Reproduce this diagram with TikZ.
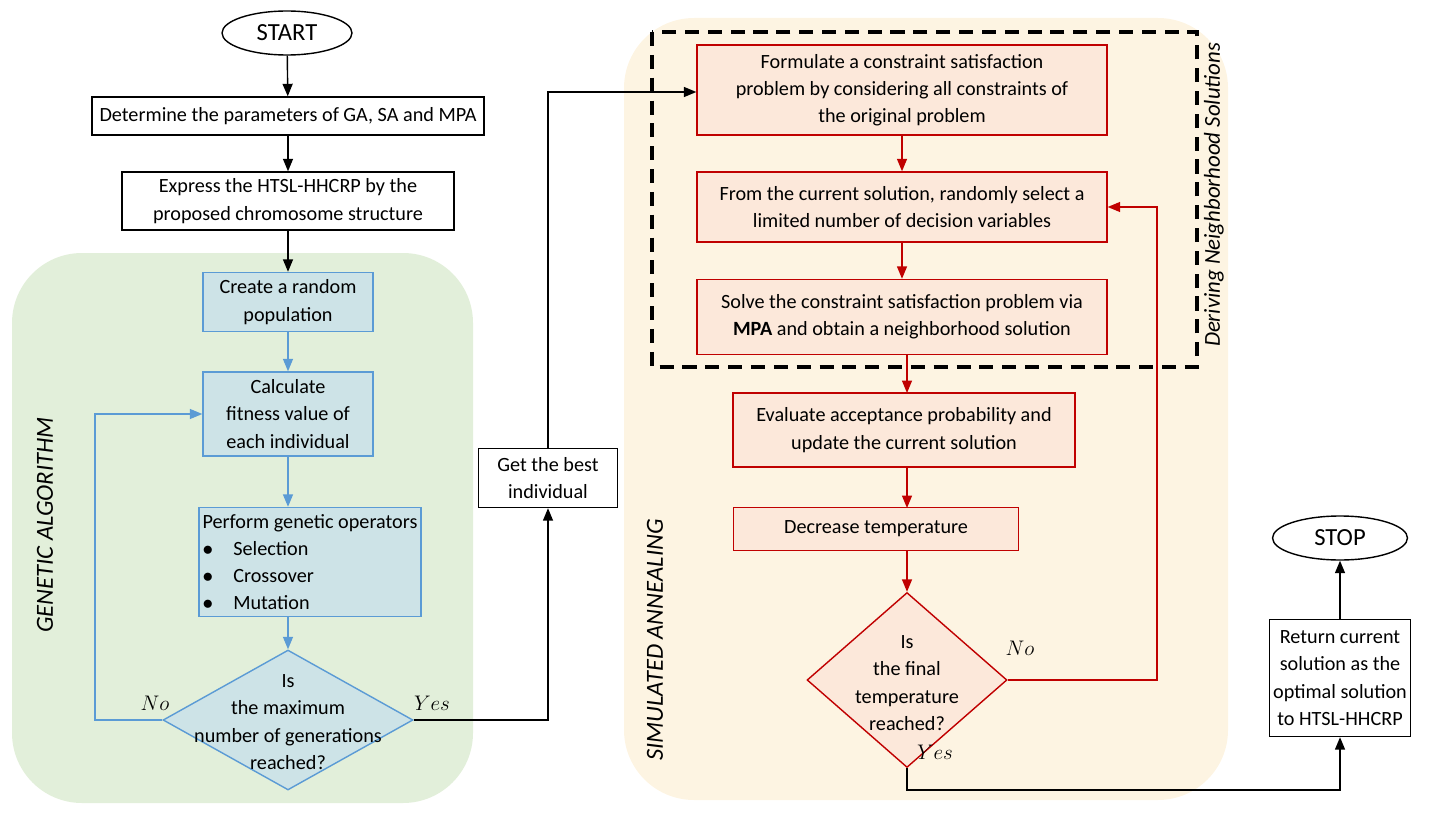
\documentclass[tikz,border=0pt]{standalone}
\usepackage{fontspec}
\setmainfont{Carlito}
\usetikzlibrary{positioning}
\usetikzlibrary{arrows.meta}
\usetikzlibrary{calc,shapes.geometric}
\definecolor{gaback}{RGB}{226,239,218}
\definecolor{saback}{RGB}{253,244,226}
\definecolor{gafill}{RGB}{205,227,231}
\definecolor{gaedge}{RGB}{91,155,213}
\definecolor{safill}{RGB}{252,232,218}
\definecolor{saedge}{RGB}{192,0,0}

\begin{document}
\begin{tikzpicture}[x=0.02cm,y=-0.02cm,every node/.style={font=\fontsize{11.5}{15.5}\selectfont,align=center}]
	
	\tikzstyle{plain}=[rectangle,draw=black,thick,fill=white,inner sep=2pt]
	\tikzstyle{term}=[ellipse,draw=black,thick,fill=white,minimum width=2.6cm,minimum height=0.88cm,font=\fontsize{14}{18}\selectfont]
	\tikzstyle{ga box}=[rectangle,draw=gaedge,thick,fill=gafill,inner sep=2pt]
	\tikzstyle{sa box}=[rectangle,draw=saedge,thick,fill=safill,inner sep=2pt]
	\tikzstyle{ga arrow}=[-{Triangle[length=2.5mm,width=2mm]},thick,draw=gaedge]
	\tikzstyle{sa arrow}=[-{Triangle[length=2.5mm,width=2mm]},thick,draw=saedge]
	\tikzstyle{bk arrow}=[-{Triangle[length=2.5mm,width=2mm]},thick,draw=black]
	
	\useasboundingbox (0,0) rectangle (1432,814);
	
	% Backgrounds:
	\fill[gaback,rounded corners=1.4cm] (12,253) rectangle (473,803);
	\fill[saback,rounded corners=1.4cm] (624,18) rectangle (1228,800);
	\draw[black,line width=2pt,dash pattern=on 8pt off 5pt] (652,32) rectangle (1197,367);
	\node[rotate=90,font=\itshape\fontsize{14}{18}\selectfont] at (45,525) {GENETIC ALGORITHM};
	\node[rotate=90,font=\itshape\fontsize{14}{18}\selectfont] at (655,640) {SIMULATED ANNEALING};
	\node[rotate=90,font=\itshape\fontsize{13}{18}\selectfont] at (1214,195) {Deriving Neighborhood Solutions};
	
	% Start:
	\node[term] (start) at (287,33) {START};
	\node[plain,minimum width=7.84cm,minimum height=0.76cm] (param) at (288,116) {Determine the parameters of GA, SA and MPA};
	\node[plain,minimum width=6.64cm,minimum height=1.16cm] (chrom) at (288,201) {Express the HTSL-HHCRP by the\\proposed chromosome structure};
	
	% Genetic algorithm:
	\node[ga box,minimum width=3.4cm,minimum height=1.18cm] (pop) at (288,302) {Create a random\\population};
	\node[ga box,minimum width=3.4cm,minimum height=1.68cm] (fit) at (288,414) {Calculate\\fitness value of\\each individual};
	\node[ga box,minimum width=4.3cm,minimum height=2.18cm,align=left] (oper) at (310,562) {Perform genetic operators\\$\bullet$\quad Selection\\$\bullet$\quad Crossover\\$\bullet$\quad Mutation};
	\node[diamond,draw=gaedge,thick,fill=gafill,minimum width=5cm,minimum height=2.8cm,inner sep=0pt] (gen) at (288,720) {};
	\node at (288,722) {Is\\the maximum\\number of generations\\reached?};
	\node[plain,minimum width=2.78cm,minimum height=1.18cm] (best) at (548,478) {Get the best\\individual};
	
	\draw[bk arrow] (start) -- (param);
	\draw[bk arrow] (param) -- (chrom);
	\draw[bk arrow] (chrom) -- (pop);
	\draw[ga arrow] (pop) -- (fit);
	\draw[ga arrow] (fit) -- (fit|-oper.north);
	\draw[ga arrow] (fit|-oper.south) -- (gen);
	\draw[ga arrow] (gen.west) -| (95,414) -- (fit.west);
	\node at (155,703) {$No$};
	\draw[bk arrow] (gen.east) -- (548,720) -- (best);
	\node at (432,703) {$Yes$};
	
	% Simulated annealing:
	\node[sa box,minimum width=8.2cm,minimum height=1.8cm] (form) at (902,90) {Formulate a constraint satisfaction\\problem by considering all constraints of\\the original problem};
	\node[sa box,minimum width=8.2cm,minimum height=1.4cm] (curr) at (902,207) {From the current solution, randomly select a\\limited number of decision variables};
	\node[sa box,minimum width=8.2cm,minimum height=1.5cm] (solve) at (902,317) {Solve the constraint satisfaction problem via\\\textbf{MPA} and obtain a neighborhood solution};
	\node[sa box,minimum width=6.84cm,minimum height=1.48cm] (eval) at (904,430) {Evaluate acceptance probability and\\update the current solution};
	\node[sa box,minimum width=5.7cm,minimum height=0.86cm] (temp) at (876,529) {Decrease temperature};
	\node[diamond,draw=saedge,thick,fill=safill,minimum width=4cm,minimum height=3.5cm,inner sep=0pt] (fin) at (907,680) {};
	\node at (907,683) {Is\\the final\\temperature\\reached?};
	
	\draw[bk arrow] (best) -- (548,92) -- (form.west|-548,92);
	\draw[sa arrow] (form) -- (curr);
	\draw[sa arrow] (curr) -- (solve);
	\draw[sa arrow] (907,355) -- (907,393);
	\draw[sa arrow] (907,467) -- (907,508);
	\draw[sa arrow] (907,551) -- (fin.north);
	\draw[sa arrow] (fin.east) -- (1157,680) -- (1157,207) -- (curr.east);
	\node at (1020,648) {$No$};
	
	% Stop:
	\node[plain,minimum width=2.8cm,minimum height=2.34cm] (ret) at (1340,678) {Return current\\solution as the\\optimal solution\\to HTSL-HHCRP};
	\node[term,minimum width=2.7cm] (stop) at (1340,538) {STOP};
	\draw[bk arrow] (fin.south) -- (907,790) -| (ret.south);
	\node at (935,752) {$Yes$};
	\draw[bk arrow] (ret) -- (stop);
	
\end{tikzpicture}
\end{document}
